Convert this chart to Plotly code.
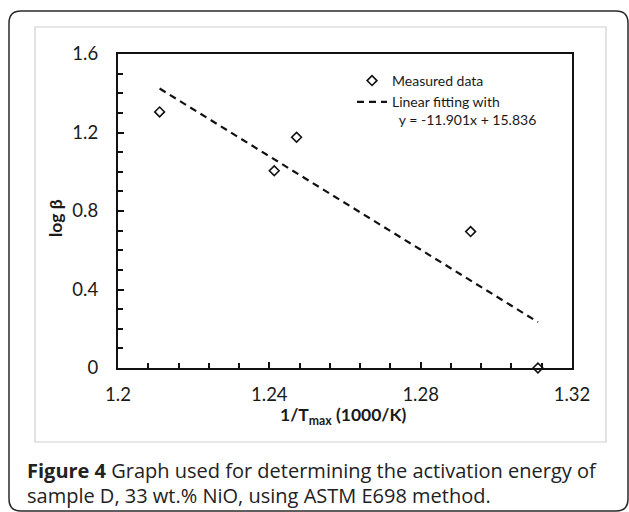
import plotly.graph_objects as go

# ---------------- data ----------------
x_measured = [1.211, 1.2413, 1.2472, 1.2932, 1.311]
y_measured = [1.305, 1.005, 1.176, 0.695, 0.0]

x_fit = [1.211, 1.311]
y_fit = [1.424, 0.234]

x_ticks = [1.2, 1.24, 1.28, 1.32]
x_ticklabels = ["1.2", "1.24", "1.28", "1.32"]
y_ticks = [0, 0.4, 0.8, 1.2, 1.6]
y_ticklabels = ["0", "0.4", "0.8", "1.2", "1.6"]

legend_measured = "Measured data"
legend_fit = "Linear fitting with<br>&nbsp;&nbsp;y = -11.901x + 15.836"

x_title = "<b>1/T<sub>max</sub> (1000/K)</b>"
y_title = "<b>log β</b>"
caption_1 = "<b>Figure 4</b> Graph used for determining the activation energy of"
caption_2 = "sample D, 33 wt.% NiO, using ASTM E698 method."

# ---------------- geometry (pixels) ----------------
W, H = 629, 512
L, R, T, B = 118, 572, 54, 368
PW, PH = R - L, B - T


def px(x):
    return (x - L) / PW


def py(y):
    return (B - y) / PH


def rounded_rect(x0, y0, x1, y1, r):
    pts = [
        ("M", [(x0 + r, y0)]),
        ("L", [(x1 - r, y0)]),
        ("Q", [(x1, y0), (x1, y0 + r)]),
        ("L", [(x1, y1 - r)]),
        ("Q", [(x1, y1), (x1 - r, y1)]),
        ("L", [(x0 + r, y1)]),
        ("Q", [(x0, y1), (x0, y1 - r)]),
        ("L", [(x0, y0 + r)]),
        ("Q", [(x0, y0), (x0 + r, y0)]),
    ]
    s = ""
    for cmd, cs in pts:
        s += cmd + " " + " ".join(f"{px(a):.5f},{py(b):.5f}" for a, b in cs) + " "
    return s + "Z"


FONT = "Lato"
INK = "#1a1a1a"

fig = go.Figure()

fig.add_trace(go.Scatter(
    x=x_measured, y=y_measured, mode="markers", name=legend_measured,
    marker=dict(symbol="diamond-open", size=7.5, color="#111111",
                line=dict(width=1.6, color="#111111")),
    cliponaxis=False,
))

fig.add_trace(go.Scatter(
    x=x_fit, y=y_fit, mode="lines", name=legend_fit,
    line=dict(color="#111111", width=2.2, dash="7px,5px"),
))

fig.update_layout(
    width=W, height=H,
    margin=dict(l=L, r=W - R, t=T, b=H - B),
    paper_bgcolor="white", plot_bgcolor="white",
    font=dict(family=FONT, color=INK),
    showlegend=True,
    legend=dict(
        x=px(352), y=py(65), xanchor="left", yanchor="top",
        bgcolor="rgba(0,0,0,0)", font=dict(family=FONT, size=14, color=INK),
        itemwidth=30, tracegroupgap=0, valign="top",
    ),
    xaxis=dict(
        range=[1.2, 1.32], tickmode="array", tickvals=x_ticks, ticktext=x_ticklabels,
        ticks="inside", ticklen=6, tickwidth=1.5, tickcolor="#111111",
        minor=dict(dtick=0.008, tick0=1.2, ticks="inside", ticklen=5,
                   tickwidth=1.5, tickcolor="#111111", showgrid=False),
        showline=True, linewidth=2.2, linecolor="#111111", mirror=True,
        showgrid=False, zeroline=False,
        tickfont=dict(family=FONT, size=18.5, color=INK),
        ticklabelstandoff=9,
    ),
    yaxis=dict(
        range=[0, 1.6], tickmode="array", tickvals=y_ticks, ticktext=y_ticklabels,
        ticks="inside", ticklen=6, tickwidth=1.5, tickcolor="#111111",
        minor=dict(dtick=0.1, tick0=0, ticks="inside", ticklen=5,
                   tickwidth=1.5, tickcolor="#111111", showgrid=False),
        showline=True, linewidth=2.2, linecolor="#111111", mirror=True,
        showgrid=False, zeroline=False,
        tickfont=dict(family=FONT, size=18.5, color=INK),
        ticklabelstandoff=14,
    ),
    shapes=[
        dict(type="path", xref="paper", yref="paper", path=rounded_rect(9, 11, 628, 511, 12),
             line=dict(color="#2a2a2a", width=1.5), fillcolor="rgba(0,0,0,0)", layer="below"),
        dict(type="rect", xref="paper", yref="paper",
             x0=px(35), x1=px(606), y0=py(442), y1=py(27),
             line=dict(color="#cfcfcf", width=1.2), fillcolor="rgba(0,0,0,0)", layer="below"),
    ],
    annotations=[
        dict(text=x_title, xref="paper", yref="paper", x=px(343), y=py(416),
             xanchor="center", yanchor="middle", showarrow=False,
             font=dict(family=FONT, size=17.5, color=INK)),
        dict(text=y_title, xref="paper", yref="paper", x=px(55), y=py(218),
             xanchor="center", yanchor="middle", showarrow=False, textangle=-90,
             font=dict(family=FONT, size=17.5, color=INK)),
        dict(text=caption_1, xref="paper", yref="paper", x=px(25), y=py(470),
             xanchor="left", yanchor="middle", showarrow=False,
             font=dict(family="Open Sans", size=20, color="#222222")),
        dict(text=caption_2, xref="paper", yref="paper", x=px(25), y=py(495),
             xanchor="left", yanchor="middle", showarrow=False,
             font=dict(family="Open Sans", size=20, color="#222222")),
    ],
)

fig.write_html("out.html", config={"displayModeBar": False},
               post_script="document.body.style.margin='0px';")
